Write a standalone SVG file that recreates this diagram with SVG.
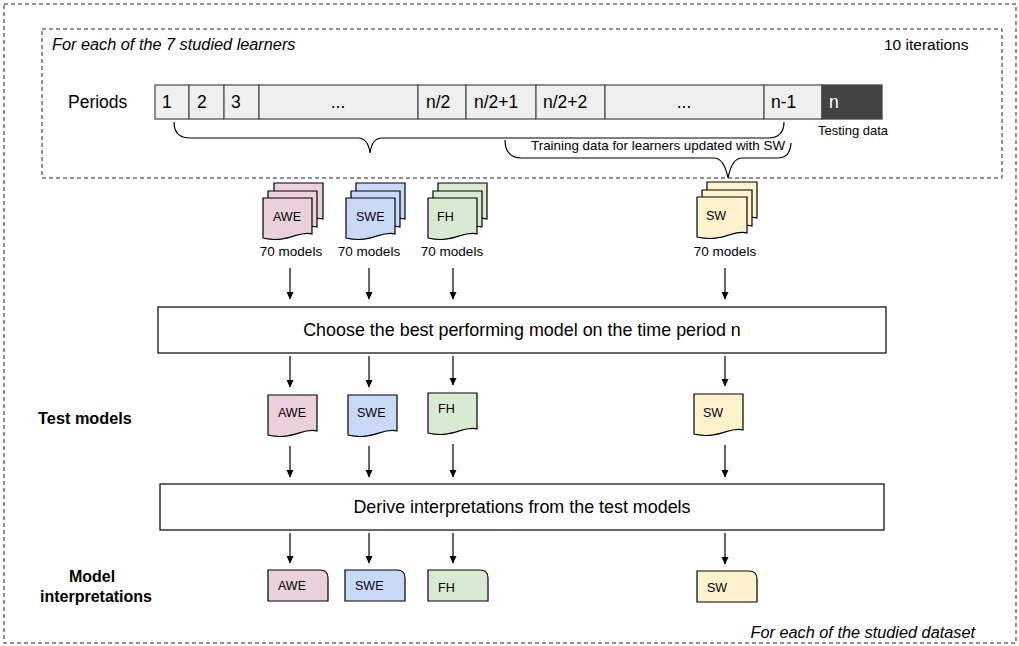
<svg xmlns="http://www.w3.org/2000/svg" width="1019" height="646" viewBox="0 0 1019 646">
<defs>
<style>
.t{font-family:"Liberation Sans",Arial,sans-serif;fill:#000}
.cell{fill:#efefef;stroke:#555;stroke-width:1.3}
.dash{fill:none;stroke:#222;stroke-width:1;stroke-dasharray:4,3}
.brace{fill:none;stroke:#000;stroke-width:1.2}
.box{fill:#fff;stroke:#000;stroke-width:1.2}
.doc{stroke:#000;stroke-width:1.2}
.awe{fill:#ead1dc}.swe{fill:#c9daf8}.fh{fill:#d9ead3}.sw{fill:#fff2cc}
.ln{stroke:#000;stroke-width:1.2;fill:none}
</style>
<marker id="ah" markerWidth="8" markerHeight="8" refX="7" refY="4" orient="auto" markerUnits="userSpaceOnUse">
<path d="M0,0.5 L7.5,4 L0,7.5 Z" fill="#000"/>
</marker>
<path id="d" d="M0,0 H49 V36 C35,32 25,46 0,40 Z"/>
<path id="dS" d="M0,0 H50 V36 C36,32 26,46 0,40 Z"/>
<path id="r" d="M0,0 H52 Q60,0 60,8 V31 H0 Z"/>
</defs>

<rect class="dash" x="4" y="4" width="1012" height="639"/>
<rect class="dash" x="42" y="29" width="960" height="149"/>
<text class="t" x="52" y="50" font-size="16.3" font-style="italic">For each of the 7 studied learners</text>
<text class="t" x="884" y="50" font-size="15.5">10 iterations</text>
<text class="t" x="975" y="638" font-size="16.3" font-style="italic" text-anchor="end">For each of the studied dataset</text>

<g id="periods">
<text class="t" x="68" y="108" font-size="17.5">Periods</text>
<rect class="cell" x="155" y="85" width="34" height="34"/>
<rect class="cell" x="189" y="85" width="35" height="34"/>
<rect class="cell" x="224" y="85" width="35" height="34"/>
<rect class="cell" x="259" y="85" width="159" height="34"/>
<rect class="cell" x="418" y="85" width="48" height="34"/>
<rect class="cell" x="466" y="85" width="70" height="34"/>
<rect class="cell" x="536" y="85" width="69" height="34"/>
<rect class="cell" x="605" y="85" width="159" height="34"/>
<rect class="cell" x="764" y="85" width="58" height="34"/>
<rect x="822" y="85" width="60" height="34" fill="#434343" stroke="#434343" stroke-width="1.3"/>
<g class="t" font-size="17.5">
<text x="162" y="108">1</text>
<text x="197" y="108">2</text>
<text x="231" y="108">3</text>
<text x="338" y="108" text-anchor="middle">...</text>
<text x="426" y="108">n/2</text>
<text x="474" y="108">n/2+1</text>
<text x="543" y="108">n/2+2</text>
<text x="684" y="108" text-anchor="middle">...</text>
<text x="771" y="108">n-1</text>
<text x="829" y="108" style="fill:#fff">n</text>
</g>
<text class="t" x="818" y="135" font-size="13">Testing data</text>
</g>

<g id="braces">
<path class="brace" d="M174,122 Q174,138 190,138 H358 Q368,138 370,153 Q372,138 382,138 H768 Q784,138 784,122"/>
<path class="brace" d="M505,140 Q505,158 522,158 H714 Q724,158 728,178 Q732,158 742,158 H778 Q790,158 791,143"/>
<text class="t" x="531" y="150" font-size="13.4">Training data for learners updated with SW</text>
</g>

<g id="stack-awe">
<use href="#d" class="doc awe" x="274" y="183"/>
<use href="#d" class="doc awe" x="268" y="191"/>
<use href="#d" class="doc awe" x="263" y="198"/>
<text class="t" x="273" y="221" font-size="12.5">AWE</text>
<text class="t" x="291" y="256" font-size="13.5" text-anchor="middle">70 models</text>
</g>
<g id="stack-swe">
<use href="#d" class="doc swe" x="356" y="183"/>
<use href="#d" class="doc swe" x="351" y="191"/>
<use href="#d" class="doc swe" x="346" y="198"/>
<text class="t" x="356" y="221" font-size="12.5">SWE</text>
<text class="t" x="369" y="256" font-size="13.5" text-anchor="middle">70 models</text>
</g>
<g id="stack-fh">
<use href="#d" class="doc fh" x="438" y="183"/>
<use href="#d" class="doc fh" x="433" y="191"/>
<use href="#d" class="doc fh" x="428" y="198"/>
<text class="t" x="437" y="221" font-size="12.5">FH</text>
<text class="t" x="452" y="256" font-size="13.5" text-anchor="middle">70 models</text>
</g>
<g id="stack-sw">
<use href="#dS" class="doc sw" x="707" y="182"/>
<use href="#dS" class="doc sw" x="702" y="190"/>
<use href="#dS" class="doc sw" x="697" y="197"/>
<text class="t" x="706" y="220" font-size="12.5">SW</text>
<text class="t" x="725" y="256" font-size="13.5" text-anchor="middle">70 models</text>
</g>

<g id="choose">
<rect class="box" x="158" y="307" width="728" height="46"/>
<text class="t" x="522" y="336" font-size="17.9" text-anchor="middle">Choose the best performing model on the time period n</text>
</g>

<text class="t" x="85" y="424" font-size="16.3" font-weight="bold" text-anchor="middle">Test models</text>
<g id="test-awe">
<use href="#d" class="doc awe" x="268" y="395"/>
<text class="t" x="278" y="417" font-size="12.5">AWE</text>
</g>
<g id="test-swe">
<use href="#d" class="doc swe" x="348" y="395"/>
<text class="t" x="357" y="417" font-size="12.5">SWE</text>
</g>
<g id="test-fh">
<use href="#d" class="doc fh" x="428" y="393"/>
<text class="t" x="438" y="413" font-size="12.5">FH</text>
</g>
<g id="test-sw">
<use href="#d" class="doc sw" x="694" y="394"/>
<text class="t" x="703" y="417" font-size="12.5">SW</text>
</g>

<g id="derive">
<rect class="box" x="160" y="484" width="724" height="46"/>
<text class="t" x="522" y="513" font-size="17.9" text-anchor="middle">Derive interpretations from the test models</text>
</g>

<text class="t" x="92" y="582" font-size="16" font-weight="bold" text-anchor="middle">Model</text>
<text class="t" x="96" y="602" font-size="16" font-weight="bold" text-anchor="middle">interpretations</text>
<g id="int-awe">
<use href="#r" class="doc awe" x="268" y="570"/>
<text class="t" x="278" y="590" font-size="12.5">AWE</text>
</g>
<g id="int-swe">
<use href="#r" class="doc swe" x="345" y="570"/>
<text class="t" x="355" y="590" font-size="12.5">SWE</text>
</g>
<g id="int-fh">
<use href="#r" class="doc fh" x="428" y="570"/>
<text class="t" x="438" y="592" font-size="12.5">FH</text>
</g>
<g id="int-sw">
<use href="#r" class="doc sw" x="697" y="571"/>
<text class="t" x="707" y="592" font-size="12.5">SW</text>
</g>

<g id="connectors">
<line class="ln" x1="290" y1="268" x2="290" y2="299" marker-end="url(#ah)"/>
<line class="ln" x1="369" y1="268" x2="369" y2="299" marker-end="url(#ah)"/>
<line class="ln" x1="453" y1="268" x2="453" y2="299" marker-end="url(#ah)"/>
<line class="ln" x1="725" y1="268" x2="725" y2="299" marker-end="url(#ah)"/>
<line class="ln" x1="290" y1="356" x2="290" y2="387" marker-end="url(#ah)"/>
<line class="ln" x1="369" y1="356" x2="369" y2="387" marker-end="url(#ah)"/>
<line class="ln" x1="453" y1="356" x2="453" y2="385" marker-end="url(#ah)"/>
<line class="ln" x1="725" y1="356" x2="725" y2="386" marker-end="url(#ah)"/>
<line class="ln" x1="290" y1="446" x2="290" y2="477" marker-end="url(#ah)"/>
<line class="ln" x1="369" y1="446" x2="369" y2="477" marker-end="url(#ah)"/>
<line class="ln" x1="453" y1="444" x2="453" y2="477" marker-end="url(#ah)"/>
<line class="ln" x1="725" y1="445" x2="725" y2="477" marker-end="url(#ah)"/>
<line class="ln" x1="290" y1="533" x2="290" y2="563" marker-end="url(#ah)"/>
<line class="ln" x1="369" y1="533" x2="369" y2="563" marker-end="url(#ah)"/>
<line class="ln" x1="453" y1="533" x2="453" y2="563" marker-end="url(#ah)"/>
<line class="ln" x1="725" y1="533" x2="725" y2="564" marker-end="url(#ah)"/>
</g>
</svg>
